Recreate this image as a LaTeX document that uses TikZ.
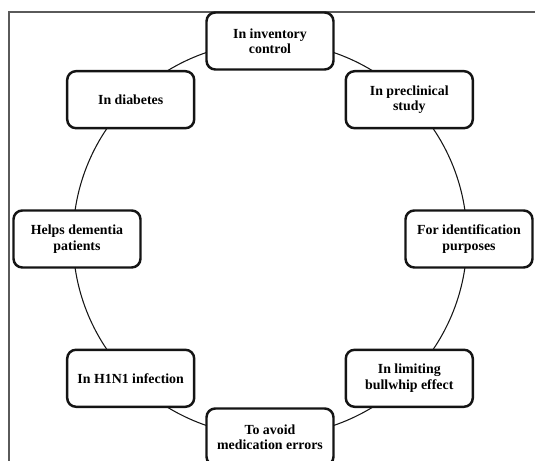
\documentclass[tikz,border=0pt]{standalone}
\usepackage{fontspec}
\setmainfont{Liberation Serif}
\usetikzlibrary{positioning}
\definecolor{ink}{RGB}{20,20,20}
\definecolor{frame}{RGB}{90,90,90}
\tikzset{
  usebox/.style={draw=ink,fill=white,rounded corners=5pt,line width=1.4pt,
    minimum height=11.4mm,minimum width=25.4mm,align=center,
    font=\fontsize{7.9}{8.8}\selectfont\bfseries},
  ring/.style={draw=ink,line width=0.6pt},
}
\begin{document}
\begin{tikzpicture}
  \useasboundingbox (-5.4,-4.44) rectangle (5.3,4.78);
  % outer frame, cut by the page
  \draw[frame,line width=0.6pt] (-5.22,-4.6) -- (-5.22,4.54) -- (5.5,4.54);
  \draw[ring] (0,0) circle (3.94);
  \foreach \a/\r/\t in {90/3.96/In inventory\\control,
      45/3.94/In preclinical\\study,
      0/3.98/For identification\\purposes,
      -45/3.94/In limiting\\bullwhip effect,
      -90/3.96/To avoid\\medication errors,
      -135/3.94/In H1N1 infection,
      180/3.86/Helps dementia\\patients,
      135/3.94/In diabetes}{
    \node[usebox] (u\a) at (\a:\r) {\t};
  }
\end{tikzpicture}
\end{document}
